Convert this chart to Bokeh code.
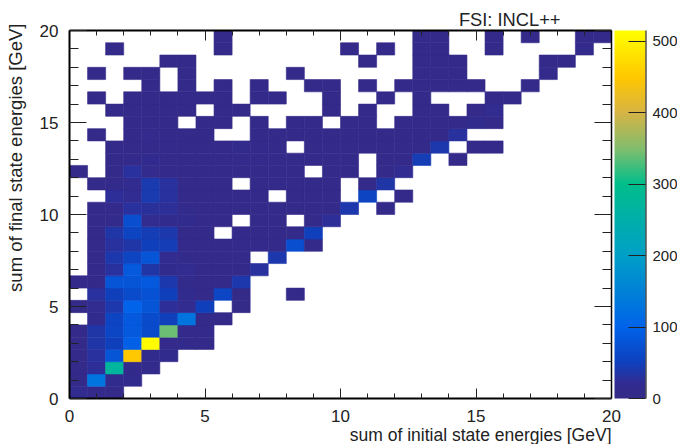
import math
import numpy as np
from bokeh.embed import file_html
from bokeh.resources import INLINE
from bokeh.plotting import figure
from bokeh.models import (ColumnDataSource, LinearColorMapper, ColorBar, FixedTicker,
                          LinearAxis, Label)

r00 = [20,10,8]
r01 = [6,130,15,15]
r02 = [6,25,270,12,12]
r03 = [6,30,80,450,15,15]
r04 = [6,35,50,95,510,10,12,6]
r05 = [6,35,60,85,65,340,10,10]
r06 = [0,15,55,85,65,50,130,8,8]
r07 = [4,20,40,100,80,25,20,50,0,4]
r08 = [0,30,50,65,75,50,15,8,60,4,0,0,6]
r09 = [5,8,80,80,85,40,12,6,6,40]
r10 = [0,10,30,85,35,15,20,8,8,8,30]
r11 = [0,8,40,55,80,20,12,8,6,8,0,40]
r12 = [0,8,30,35,50,45,10,8,8,10,10,8,70,8]
r13 = [0,6,35,55,45,40,8,8,0,10,8,8,8,50]
r14 = [0,6,12,70,20,15,15,8,8,0,8,8,0,8,25]
r15 = [0,5,10,30,28,25,12,8,8,8,8,8,8,8,8,40,0,8]
r16 = [0,0,25,22,42,30,8,8,8,8,8,0,8,8,8,0,55,0,8]
r17 = [0,5,12,20,42,30,8,8,8,0,8,8,8,8,8,0,8,35]
r18 = [6,0,8,30,14,10,8,8,8,8,8,8,8,0,8,8,0,8,22]
r19 = [0,0,8,10,18,10,8,8,8,10,10,8,8,8,8,8,0,8,8,45,0,8]
r20 = [0,0,8,8,10,10,8,8,8,12,10,8,0,8,8,8,8,8,8,8,40,0,8,8]
r21 = [0,7,0,8,14,10,8,8,0,0,8,8,8,8,8,8,8,8,8,8,8,30]
r22 = [0,0,0,8,10,8,0,8,8,0,8,0,8,8,0,8,8,0,8,8,8,8,15,8]
r23 = [0,0,6,6,8,6,6,0,6,6,0,0,0,0,6,0,6,0,0,6,6,0,6,20]
r24 = [0,6,0,6,6,6,6,6,6,0,7,6,0,0,6,0,0,6,0,6,0,0,0,6,6]
r25 = [0,0,0,0,6,0,6,0,6,0,6,0,0,6,6,0,6,0,6,6,6,6,6,0,0,6]
r26 = [0,6,0,6,6,0,6,0,0,0,0,0,6,0,0,0,0,0,0,6,6,6,0,0,0,0,12]
r27 = [0,0,0,0,0,6,6,0,0,0,0,0,0,0,0,0,6,0,0,6,6,6,0,0,0,0,6,6]
r28 = [0,0,6,0,0,0,0,0,6,0,0,0,0,0,0,6,0,6,0,6,6,0,0,6,0,0,0,0,12]
r29 = [0,0,0,0,0,0,0,0,6,0,0,0,0,0,0,0,0,0,0,6,6,0,0,6,0,6,0,0,6,6]
rows = [r00,r01,r02,r03,r04,r05,r06,r07,r08,r09,r10,r11,r12,r13,r14,
        r15,r16,r17,r18,r19,r20,r21,r22,r23,r24,r25,r26,r27,r28,r29]

n_bins = 30
axis_max = 20
z_max = 515
major = [0,5,10,15,20]
minor = list(range(0,21))
z_ticks = [0,100,200,300,400,500]
title_text = "FSI: INCL++"
x_title = "sum of initial state energies [GeV]"
y_title = "sum of final state energies [GeV]"

stops = [0,20,50,100,150,200,250,300,350,400,450,515]
reds  = [53,50,15,0,0,0,0,0,130,215,255,255]
grns  = [42,44,65,100,130,160,175,190,190,180,200,255]
blus  = [135,145,190,235,215,200,170,140,110,70,0,0]
zs = np.linspace(0,z_max,256)
palette = ["#%02x%02x%02x" % (int(np.interp(z,stops,reds)),int(np.interp(z,stops,grns)),int(np.interp(z,stops,blus))) for z in zs]
mapper = LinearColorMapper(palette=palette, low=0, high=z_max)

step = axis_max/n_bins
L,R,B,T,V = [],[],[],[],[]
for j,row in enumerate(rows):
    for i,v in enumerate(row):
        if v>0:
            L.append(i*step);R.append((i+1)*step);B.append(j*step);T.append((j+1)*step);V.append(v)
src = ColumnDataSource(dict(l=L,r=R,b=B,t=T,v=V))

W,H = 677,444
p = figure(width=W,height=H,x_range=(0,axis_max),y_range=(0,axis_max),output_backend="svg",toolbar_location=None,
           min_border_left=69,min_border_right=66,min_border_top=30,min_border_bottom=46)
p.grid.visible = False
p.outline_line_color = None
p.background_fill_color = "white"
c = {"field":"v","transform":mapper}
p.quad(left="l",right="r",bottom="b",top="t",source=src,fill_color=c,line_color=c,line_width=0.6)

FONT = "Liberation Sans"
def style(ax,maj,mnr,labels,lw):
    ax.ticker = FixedTicker(ticks=major,minor_ticks=minor)
    ax.major_tick_in = maj; ax.major_tick_out = 0
    ax.minor_tick_in = mnr; ax.minor_tick_out = 0
    ax.axis_line_color = "black"; ax.axis_line_width = lw
    ax.major_tick_line_color = "#222222"; ax.minor_tick_line_color = "#222222"
    ax.major_tick_line_width = 1; ax.minor_tick_line_width = 1
    if labels:
        ax.major_label_text_font = FONT
        ax.major_label_text_font_size = "17px"
        ax.major_label_text_color = "#222222"
    else:
        ax.major_label_text_color = None
        ax.major_label_text_font_size = "1px"
        ax.major_label_standoff = 0
style(p.xaxis[0],10,5,True,2)
style(p.yaxis[0],17,9,True,2)
p.xaxis[0].major_label_standoff = 11
p.yaxis[0].major_label_standoff = 11
top = LinearAxis(); style(top,10,5,False,2); p.add_layout(top,"above")
right = LinearAxis(); style(right,17,9,False,1.5); p.add_layout(right,"right")

cb = ColorBar(color_mapper=mapper,location=(545,0),width=31,height=368,padding=0,margin=0,
              ticker=FixedTicker(ticks=z_ticks),major_tick_in=17,major_tick_line_color="#222222",
              minor_tick_line_color=None,bar_line_color=None,label_standoff=7,
              major_label_text_font=FONT,major_label_text_font_size="15px",major_label_text_color="#222222",
              background_fill_color=None,border_line_color=None)
p.add_layout(cb)
edge = ColorBar(color_mapper=LinearColorMapper(palette=["#000000","#000000"],low=0,high=1),location=(576,0),width=1,height=368,padding=0,margin=0,
                ticker=FixedTicker(ticks=[]),bar_line_color=None,major_tick_line_color=None,minor_tick_line_color=None,
                background_fill_color=None,border_line_color=None)
p.add_layout(edge)

p.add_layout(Label(x=542,y=10,x_units="screen",y_units="screen",text=x_title,text_align="right",text_baseline="middle",
                   text_font=FONT,text_font_size="17.5px",text_color="#222222"),"below")
p.add_layout(Label(x=0,y=375,x_units="screen",y_units="screen",text=y_title,text_align="right",text_baseline="middle",angle=math.pi/2,
                   text_font=FONT,text_font_size="18.5px",text_color="#222222"),"left")
p.add_layout(Label(x=491,y=11,x_units="screen",y_units="screen",text=title_text,text_align="right",text_baseline="middle",
                   text_font=FONT,text_font_size="18.3px",text_color="#222222"),"above")

open("out.html","w").write(file_html(p,INLINE))
